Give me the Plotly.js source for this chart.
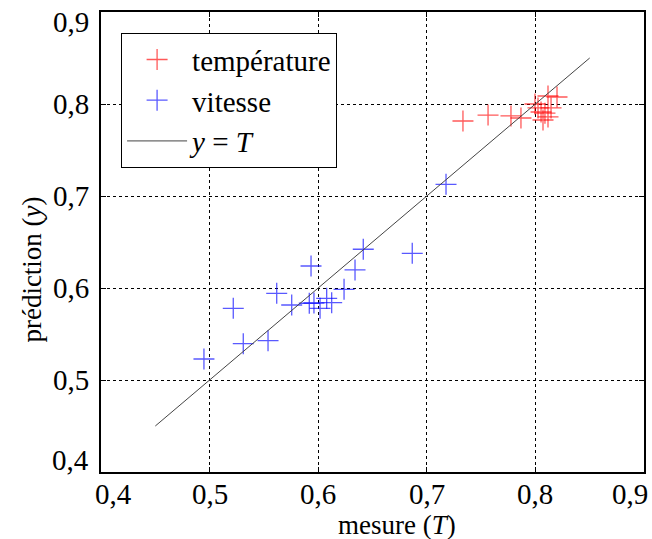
<!DOCTYPE html>
<html>
<head>
<meta charset="utf-8">
<script src="https://cdn.plot.ly/plotly-3.0.1.min.js"></script>
</head>
<body style="margin:0;padding:0;background:#fff">
<div id="chart" style="width:652px;height:539px"></div>
<script>
// Data
const tempX = [0.7333, 0.7564, 0.7775, 0.7867, 0.7996, 0.8024, 0.8052, 0.8088, 0.8116, 0.8070, 0.8116, 0.8199, 0.8144];
const tempY = [0.7815, 0.7880, 0.7870, 0.7848, 0.8000, 0.7957, 0.7913, 0.7900, 0.7859, 0.7826, 0.8087, 0.8076, 0.7957];
const vitX = [0.4948, 0.5218, 0.5310, 0.5538, 0.5618, 0.5756, 0.5934, 0.5918, 0.5961, 0.6017, 0.6078, 0.6124, 0.6238, 0.6339, 0.6415, 0.6866, 0.7177];
const vitY = [0.5228, 0.5779, 0.5395, 0.5427, 0.5942, 0.5815, 0.6239, 0.5834, 0.5837, 0.5779, 0.5888, 0.5840, 0.5986, 0.6196, 0.6421, 0.6377, 0.7127];
const lineX = [0.45, 0.85];
const lineY = [0.45, 0.85];
const xTicks = [0.4, 0.5, 0.6, 0.7, 0.8, 0.9];
const yTicks = [0.4, 0.5, 0.6, 0.7, 0.8, 0.9];
const xTickText = ["0,4", "0,5", "0,6", "0,7", "0,8", "0,9"];
const yTickText = ["0,4", "0,5", "0,6", "0,7", "0,8", "0,9"];
const seriesNames = ["température", "vitesse", "<i>y</i> = <i>T</i>"];
const xTitle = "mesure (<i>T</i>)";
const yTitle = "prédiction (<i>y</i>)";

const serifFamily = "'Liberation Serif', serif";

const traces = [
  {x: tempX, y: tempY, name: seriesNames[0], mode: "markers", type: "scatter",
   marker: {symbol: "cross-thin-open", size: 15, line: {width: 1.3, color: "rgba(255,0,0,0.65)"}, color: "rgba(255,0,0,0.65)"}},
  {x: vitX, y: vitY, name: seriesNames[1], mode: "markers", type: "scatter",
   marker: {symbol: "cross-thin-open", size: 15, line: {width: 1.3, color: "rgba(0,0,255,0.65)"}, color: "rgba(0,0,255,0.65)"}},
  {x: lineX, y: lineY, name: seriesNames[2], mode: "lines", type: "scatter",
   line: {color: "#444", width: 1}}
];

const annotations = [];
xTicks.forEach((v, i) => {
  let shift = 0;
  if (i === 0) shift = 12;
  if (i === xTicks.length - 1) shift = -14;
  annotations.push({x: v, xref: "x", y: 0, yref: "paper", yanchor: "top", xanchor: "center",
    yshift: -4, xshift: shift, text: xTickText[i], showarrow: false, font: {family: serifFamily, size: 29, color: "#000"}});
});
yTicks.forEach((v, i) => {
  let shift = 0;
  if (i === 0) shift = 12;
  if (i === yTicks.length - 1) shift = -10;
  annotations.push({x: 0, xref: "paper", y: v, yref: "y", xanchor: "right", yanchor: "middle",
    xshift: -10, yshift: shift, text: yTickText[i], showarrow: false, font: {family: serifFamily, size: 29, color: "#000"}});
});
annotations.push({x: 0.546, xref: "paper", y: 0, yref: "paper", yanchor: "top", xanchor: "center",
  yshift: -36, text: xTitle, showarrow: false, font: {family: serifFamily, size: 27, color: "#000"}});
annotations.push({x: 0, xref: "paper", y: 0.44, yref: "paper", xanchor: "center", yanchor: "middle",
  xshift: -69, text: yTitle, textangle: -90, showarrow: false, font: {family: serifFamily, size: 27, color: "#000"}});

const axisCommon = {
  range: [0.4, 0.9], showticklabels: false,
  showgrid: true, gridcolor: "#000", gridwidth: 1, griddash: "dot",
  showline: true, linecolor: "#000", linewidth: 2, mirror: "ticks",
  ticks: "inside", ticklen: 5, tickcolor: "#000", zeroline: false, fixedrange: true
};

const layout = {
  width: 652, height: 539,
  margin: {l: 101, r: 8, t: 12, b: 67, pad: 0},
  paper_bgcolor: "#fff", plot_bgcolor: "#fff",
  separators: ", ",
  font: {family: serifFamily, color: "#000", size: 27},
  showlegend: true,
  xaxis: Object.assign({}, axisCommon, {tickvals: xTicks}),
  yaxis: Object.assign({}, axisCommon, {tickvals: yTicks}),
  legend: {x: 0.037, y: 0.954, xanchor: "left", yanchor: "top", bgcolor: "#fff",
    bordercolor: "#000", borderwidth: 1, font: {family: serifFamily, size: 29, color: "#000"},
    itemwidth: 60, tracegroupgap: 0},
  annotations: annotations
};

Plotly.newPlot("chart", traces, layout, {displayModeBar: false, staticPlot: true});
</script>
</body>
</html>
